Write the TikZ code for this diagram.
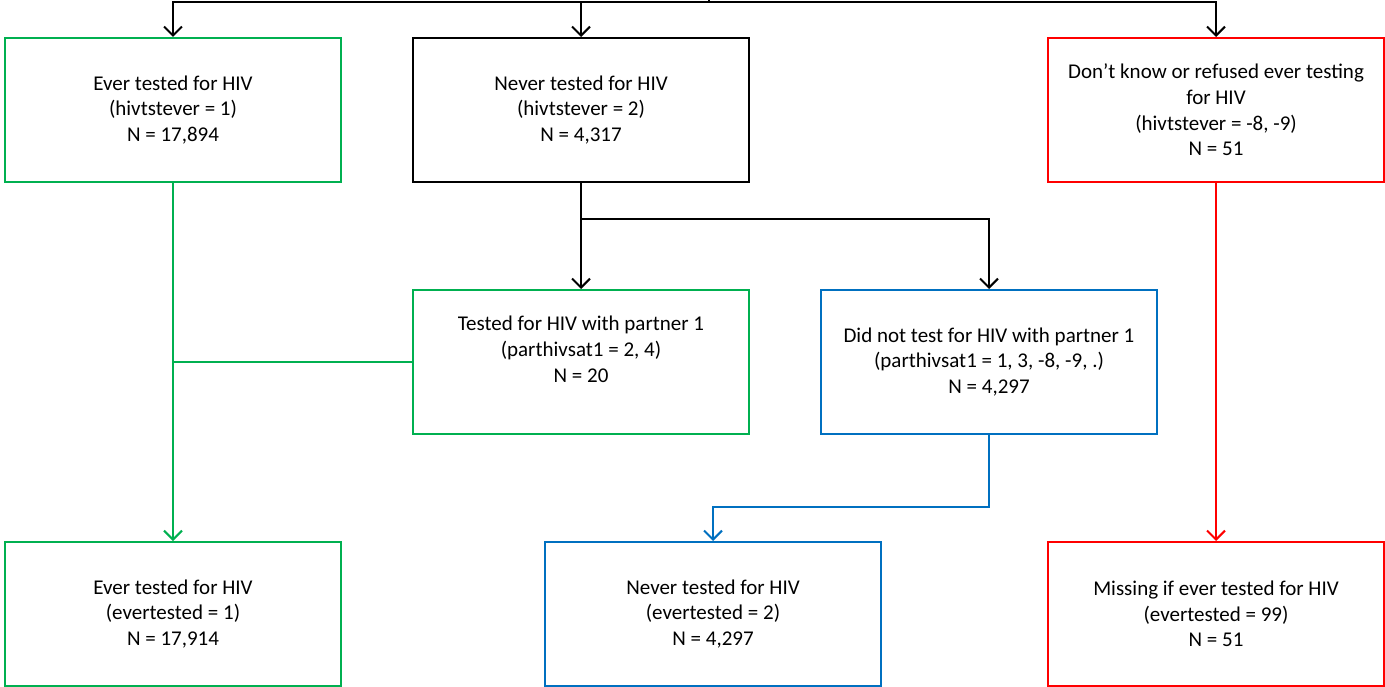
\documentclass[tikz,border=0pt]{standalone}
\usepackage{fontspec}
\setmainfont{Carlito}
\usetikzlibrary{arrows.meta}
\definecolor{mgreen}{HTML}{00B050}
\definecolor{mblue}{HTML}{0070C0}
\definecolor{mred}{HTML}{FF0000}
\tikzset{
  box/.style={draw, line width=2pt, rectangle, minimum width=336pt, minimum height=144pt,
    align=center, inner sep=0pt, font=\fontsize{21}{25.7}\selectfont},
  conn/.style={line width=2pt},
  arr/.style={conn, -{Straight Barb[length=9pt,width=18pt,line width=2pt]}},
}
\begin{document}
\begin{tikzpicture}[x=1pt,y=-1pt]
\useasboundingbox (0,0) rectangle (1385,687);
\node[box, mgreen, text=black] (A) at (173,110) {Ever tested for HIV\\(hivtstever = 1)\\N = 17,894};
\node[box, black] (B) at (581,110) {Never tested for HIV\\(hivtstever = 2)\\N = 4,317};
\node[box, mred, text=black] (C) at (1216,110) {Don’t know or refused ever testing\\for HIV\\(hivtstever = -8, -9)\\N = 51};
\node[box, mgreen, text=black] (D) at (581,362) {Tested for HIV with partner 1\\(parthivsat1 = 2, 4)\\N = 20\\\mbox{}};
\node[box, mblue, text=black] (E) at (989,362) {Did not test for HIV with partner 1\\(parthivsat1 = 1, 3, -8, -9, .)\\N = 4,297};
\node[box, mgreen, text=black] (F) at (173,614) {Ever tested for HIV\\(evertested = 1)\\N = 17,914};
\node[box, mblue, text=black] (G) at (713,614) {Never tested for HIV\\(evertested = 2)\\N = 4,297};
\node[box, mred, text=black] (H) at (1216,614) {Missing if ever tested for HIV\\(evertested = 99)\\N = 51};

\coordinate (src) at (709,-10);
\coordinate (bus) at (709,2);
\draw[conn] (src) -- (bus);
\draw[arr] (bus) -| (A.north);
\draw[arr] (bus) -| (B.north);
\draw[arr] (bus) -| (C.north);

\draw[arr] (B.south) -- ++(0,36) -| (D.north);
\draw[arr] (B.south) -- ++(0,36) -| (E.north);

\draw[arr, mgreen] (A.south) -- (F.north);
\draw[conn, mgreen] (D.west) -- (D.west -| A.south);

\draw[arr, mblue] (E.south) -- ++(0,72) -| (G.north);
\draw[arr, mred] (C.south) -- (H.north);
\end{tikzpicture}
\end{document}
